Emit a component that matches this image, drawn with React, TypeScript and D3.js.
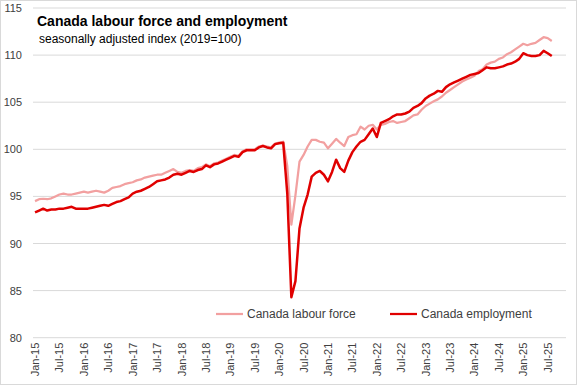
import React from 'react';
import * as d3 from 'd3';

// monthly, Jan-2015 .. Aug-2025 (index 2019=100)
const labourForce = [
  94.5, 94.7, 94.75, 94.7, 94.8, 95.0, 95.2, 95.3, 95.2, 95.2, 95.3, 95.4,
  95.5, 95.4, 95.5, 95.6, 95.5, 95.4, 95.6, 95.9, 96.0, 96.1, 96.3, 96.4,
  96.5, 96.7, 96.8, 97.0, 97.1, 97.2, 97.3, 97.3, 97.5, 97.7, 97.9, 97.6,
  97.5, 97.7, 97.8, 97.7, 98.0, 98.1, 98.4, 98.2, 98.5, 98.6, 98.8, 99.0,
  99.2, 99.4, 99.3, 99.8, 100.0, 100.0, 100.0, 100.3, 100.4, 100.3, 100.2, 100.6,
  100.7, 100.8, 98.2, 92.0, 95.1, 98.7, 99.4, 100.3, 101.0, 101.0, 100.8, 100.7,
  100.1, 100.6, 101.1, 100.7, 100.35, 101.3, 101.5, 101.6, 102.4, 102.1, 102.5, 102.6,
  102.1, 102.6, 102.7, 102.9, 103.0, 102.8, 102.9, 103.0, 103.3, 103.6, 103.7, 104.2,
  104.6, 104.85, 105.1, 105.3, 105.6, 106.0, 106.3, 106.6, 106.9, 107.2, 107.4, 107.6,
  107.8, 108.3, 108.5, 109.0, 109.2, 109.3, 109.6, 109.75, 110.1, 110.3, 110.6, 110.9,
  111.2, 111.05, 111.2, 111.3, 111.6, 111.9, 111.8, 111.5,
];

const employment = [
  93.3, 93.5, 93.7, 93.5, 93.6, 93.6, 93.7, 93.7, 93.8, 93.9, 93.7, 93.7,
  93.7, 93.7, 93.8, 93.9, 94.0, 94.1, 94.0, 94.2, 94.4, 94.5, 94.7, 94.9,
  95.3, 95.5, 95.6, 95.8, 96.0, 96.3, 96.6, 96.7, 96.8, 97.0, 97.3, 97.4,
  97.3, 97.5, 97.7, 97.6, 97.8, 97.9, 98.3, 98.1, 98.4, 98.5, 98.7, 98.9,
  99.1, 99.3, 99.2, 99.7, 99.9, 99.9, 99.9, 100.2, 100.35, 100.2, 100.1, 100.55,
  100.65, 100.7, 95.3, 84.3, 86.0, 91.6, 93.8, 95.2, 97.1, 97.5, 97.7, 97.3,
  96.6, 97.6, 98.9, 98.0, 97.6, 98.8, 99.7, 100.3, 100.8, 101.0, 101.6, 102.2,
  101.3, 102.8, 103.0, 103.2, 103.5, 103.7, 103.7, 103.8, 104.0, 104.4, 104.6, 104.9,
  105.4, 105.7, 105.9, 106.2, 106.1, 106.6, 106.9, 107.1, 107.3, 107.5, 107.7, 107.9,
  108.0, 108.1, 108.4, 108.7, 108.6, 108.6, 108.7, 108.8, 109.0, 109.1, 109.3, 109.6,
  110.2, 110.0, 109.9, 109.9, 110.0, 110.45, 110.2, 109.9,
];

const yTicks = [80, 85, 90, 95, 100, 105, 110, 115];

const seriesNames = ['Canada labour force', 'Canada employment'];
const seriesColors = ['#f2a0a0', '#e00000'];

// category axis runs a few empty months past the data, like the original
const months = d3.timeMonth.range(new Date(2015, 0, 1), new Date(2025, 11, 1));
const fmt = d3.timeFormat('%b-%y');

const W = 577, H = 385;
const left = 33, right = 566, top = 8, bottom = 337.7;
const font = "'Liberation Sans', Arial, sans-serif";

export default function App() {
  const x = d3.scaleBand<number>()
    .domain(months.map((_, i) => i))
    .range([left, right]);
  const cx = (i: number) => (x(i) ?? 0) + x.bandwidth() / 2;

  const y = d3.scaleLinear().domain([80, 115]).range([bottom, top]);

  const line = d3.line<number>()
    .x((_, i) => cx(i))
    .y(d => y(d));

  const tickIdx = months.map((_, i) => i).filter(i => i % 6 === 0 && i < 128);

  return (
    <svg width={W} height={H} style={{ position: 'absolute', left: 0, top: 0, background: '#fff' }}
      fontFamily={font}>
      <rect x={0.5} y={0.5} width={W - 1} height={H - 1} fill="#fff" stroke="#d9d9d9" />

      {yTicks.map(t => (
        <g key={t}>
          <line x1={left} x2={right} y1={y(t)} y2={y(t)} stroke="#d9d9d9" strokeWidth={1} />
          <text x={22} y={y(t) + 4} textAnchor="end" fontSize={11} fill="#404040">{t}</text>
        </g>
      ))}

      {tickIdx.map(i => (
        <text key={i} transform={`translate(${cx(i) + 4},${bottom + 5}) rotate(-90)`}
          textAnchor="end" fontSize={11} fill="#404040">{fmt(months[i])}</text>
      ))}

      <path d={line(labourForce) ?? ''} fill="none" stroke={seriesColors[0]} strokeWidth={2.25}
        strokeLinejoin="round" />
      <path d={line(employment) ?? ''} fill="none" stroke={seriesColors[1]} strokeWidth={2.5}
        strokeLinejoin="round" />

      <text x={37} y={26} fontSize={14} fontWeight="bold" fill="#000">Canada labour force and employment</text>
      <text x={39} y={43} fontSize={12} fill="#000">seasonally adjusted index (2019=100)</text>

      {seriesNames.map((n, k) => {
        const lx = [216, 390][k];
        return (
          <g key={n}>
            <line x1={lx} x2={lx + 27} y1={314} y2={314} stroke={seriesColors[k]} strokeWidth={2.25} />
            <text x={lx + 31} y={318} fontSize={12} fill="#404040">{n}</text>
          </g>
        );
      })}
    </svg>
  );
}
